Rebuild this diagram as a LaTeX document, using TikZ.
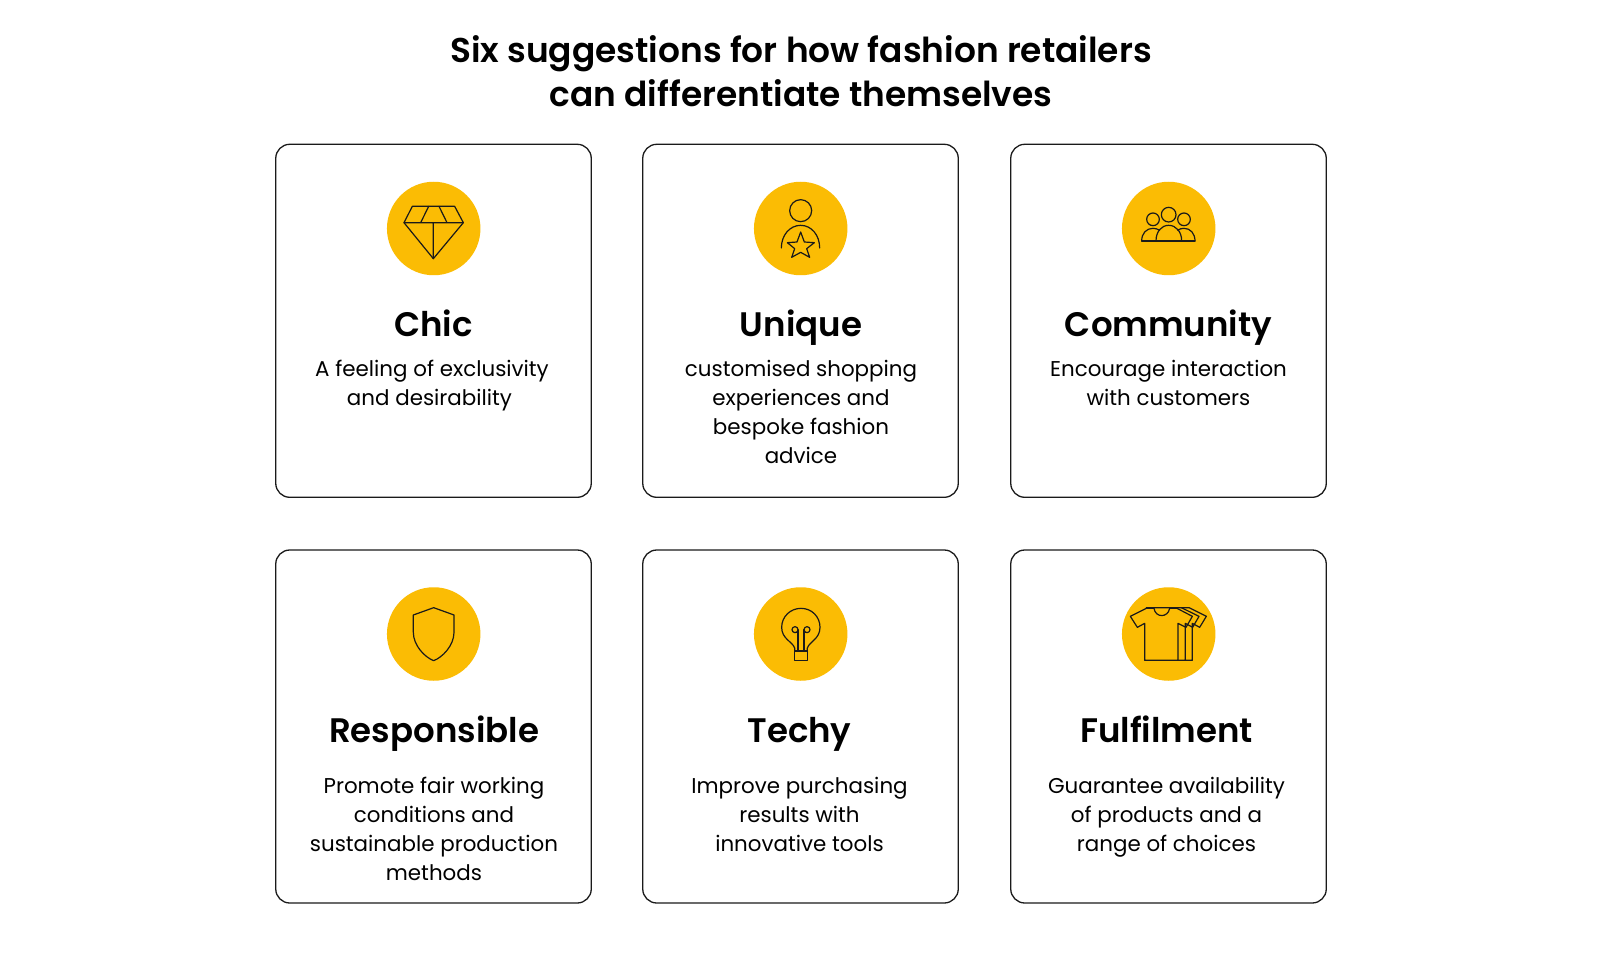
\documentclass[tikz,border=0pt]{standalone}
\usepackage{fontspec}
\setmainfont{Poppins}
\newfontfamily\headfont{Poppins SemiBold}
\definecolor{ink}{HTML}{1A1A1A}
\definecolor{gold}{HTML}{FBBC04}
\tikzset{
 card/.style={draw=ink,line width=1.3pt,rounded corners=14pt,fill=white,minimum width=315.5pt,minimum height=353pt,inner sep=0pt},
 disc/.style={circle,fill=gold,minimum size=93.5pt,inner sep=0pt},
 head/.style={font=\headfont\fontsize{34}{42}\selectfont,text=black,inner sep=0pt,anchor=base},
 body/.style={font=\fontsize{21.4}{29}\selectfont,text=black,align=center,inner sep=0pt,anchor=base},
 ttl/.style={font=\headfont\fontsize{34.4}{44}\selectfont,text=black,align=center,inner sep=0pt},
 ic/.style={draw=ink,line width=1.2pt,line join=round,line cap=round},
 zm/.style={shift={(#1)},scale=0.33333}
}
\begin{document}
\begin{tikzpicture}[x=1pt,y=-1pt]
\useasboundingbox (0,0) rectangle (1600,976);
\node[ttl] (title) at (801,71) {Six suggestions for how fashion retailers\\can differentiate themselves};
\node[card] (c1) at (433.5,320.8) {};
\node[card] (c2) at (800.5,320.8) {};
\node[card] (c3) at (1168.5,320.8) {};
\node[card] (c4) at (433.5,726.5) {};
\node[card] (c5) at (800.5,726.5) {};
\node[card] (c6) at (1168.5,726.5) {};
\node[disc] (d1) at (433.7,228.5) {};
\node[disc] (d2) at (800.7,228.5) {};
\node[disc] (d3) at (1168.7,228.5) {};
\node[disc] (d4) at (433.7,634) {};
\node[disc] (d5) at (800.7,634) {};
\node[disc] (d6) at (1168.7,634) {};
\node[head] (h1) at (433.5,336) {Chic};
\node[head] (h2) at (801,336) {Unique};
\node[head] (h3) at (1168.5,336) {Community};
\node[head] (h4) at (434,742) {Responsible};
\node[head] (h5) at (799.5,742) {Techy};
\node[head] (h6) at (1166.5,742) {Fulfilment};
\node[body] (b1) at (432,405.5) {A feeling of exclusivity\\and desirability\kern5pt};
\node[body] (b2) at (801,463.5) {customised shopping\\experiences and\\bespoke fashion\\advice};
\node[body] (b3) at (1168.5,405.5) {Encourage interaction\\with customers};
\node[body] (b4) at (434,880) {Promote fair working\\conditions and\\sustainable production\\methods};
\node[body] (b5) at (799.5,851) {Improve purchasing\\results with\\innovative tools};
\node[body] (b6) at (1166.5,851) {Guarantee availability\\of products and a\\range of choices};
% diamond
\begin{scope}[zm={370,170}]
\draw[ic] (127,109) -- (254,109) -- (280,158) -- (190,266) -- (102,158) -- cycle;
\draw[ic] (102,158) -- (280,158) (190,158) -- (190,266)
 (176,109) -- (152,158) (207,109) -- (231,158);
\end{scope}
% person with star
\begin{scope}[zm={745,170}]
\draw[ic] (167,122) circle (33);
\draw[ic] (109,234) .. controls (109,195) and (135,166) .. (167,166) .. controls (199,166) and (224,195) .. (224,234);
\draw[ic] (167,186) -- (178,216) -- (208,218) -- (185,236) -- (194,262) -- (167,247) -- (140,262) -- (149,236) -- (127,218) -- (156,216) -- cycle;
\end{scope}
% community
\begin{scope}[zm={1113,170}]
\draw[ic] (167,134) circle (22);
\draw[ic] (120,148) circle (19);
\draw[ic] (213,148) circle (19);
\draw[ic] (86,213) -- (246,213);
\draw[ic] (129,213) .. controls (129,185) and (145,166) .. (167,166) .. controls (189,166) and (206,185) .. (206,213);
\draw[ic] (86,213) .. controls (86,190) and (100,175) .. (120,175) .. controls (127,175) and (134,177) .. (140,181);
\draw[ic] (246,213) .. controls (246,190) and (232,175) .. (213,175) .. controls (206,175) and (199,177) .. (194,181);
\end{scope}
% shield
\begin{scope}[zm={379,579}]
\draw[ic] (164,86) -- (225,108) -- (225,160) .. controls (225,200) and (190,235) .. (164,245) .. controls (138,235) and (103,200) .. (103,160) -- (103,108) -- cycle;
\end{scope}
% bulb
\begin{scope}[zm={746,579}]
\draw[ic] (146,216) -- (146,207) .. controls (140,188) and (107,180) .. (107,145) .. controls (107,113) and (133,88) .. (165,88) .. controls (197,88) and (222,113) .. (222,145) .. controls (222,180) and (190,188) .. (184,207) -- (184,216);
\draw[ic] (146,216) rectangle (184,244);
\draw[ic] (147,152) circle (9);
\draw[ic] (183,152) circle (9);
\draw[ic] (156,152) -- (156,216) (147,161) -- (156,161);
\draw[ic] (174,152) -- (174,216) (183,161) -- (174,161);
\end{scope}
% t-shirts
\begin{scope}[zm={1113,579}]
\draw[ic] (52,112) -- (100,88) -- (123,88) .. controls (127,117) and (165,117) .. (170,88) -- (192,88) -- (238,112) -- (219,145) -- (195,133) -- (195,244) -- (95,244) -- (95,133) -- (73,145) -- cycle;
\draw[ic] (100,86) -- (205,86) -- (258,112) -- (239,145) -- (217,133) -- (217,244) -- (195,244);
\draw[ic] (205,86) -- (228,86) -- (280,112) -- (260,145) -- (238,133) -- (238,244) -- (217,244);
\end{scope}
\end{tikzpicture}
\end{document}
